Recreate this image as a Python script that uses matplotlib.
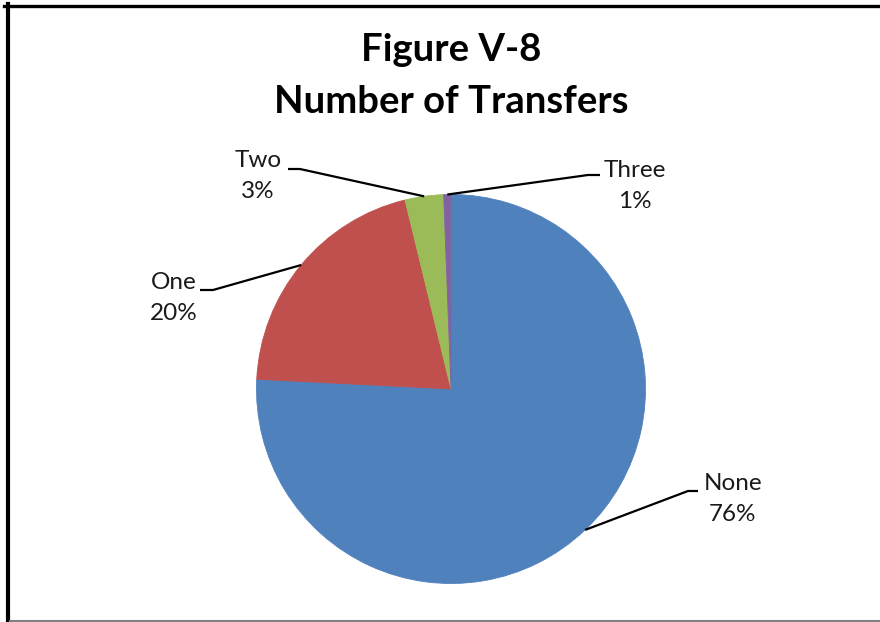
import numpy as np
import matplotlib.pyplot as plt
from matplotlib.lines import Line2D

# Data
labels = ['None', 'One', 'Two', 'Three']
shares = [75.8, 20.4, 3.2, 0.6]
pct_text = ['76%', '20%', '3%', '1%']
colors = ['#4F81BD', '#C0504D', '#9BBB59', '#8064A2']

# Layout (pixel space, y measured from the top of the image)
W, H = 880, 622
cx, cy, R = 451, 389, 194.5
text_pos = {'None': (733, 499), 'One': (174, 298), 'Two': (258, 176), 'Three': (635, 186)}
elbow = {'None': (688, 491, 698), 'One': (213, 290, 200), 'Two': (300, 169, 288),
         'Three': (588, 175, 600)}

plt.rcParams['font.family'] = ['Lato', 'DejaVu Sans']

fig = plt.figure(figsize=(W / 100, H / 100), dpi=100)
ax = fig.add_axes([0, 0, 1, 1])

wedges, _ = ax.pie(shares, colors=colors, startangle=90, counterclock=False,
                   center=(cx, H - cy), radius=R, frame=True,
                   wedgeprops=dict(linewidth=0.6))
for w in wedges:
    w.set_edgecolor(w.get_facecolor())
ax.set_xlim(0, W)
ax.set_ylim(0, H)
ax.set_aspect('auto')
ax.axis('off')

# leader lines and data labels
for w, lab, pct in zip(wedges, labels, pct_text):
    mid = np.deg2rad((w.theta1 + w.theta2) / 2)
    ex, ey = cx + R * np.cos(mid), (H - cy) + R * np.sin(mid)
    bx, by, tx = elbow[lab]
    ax.plot([ex, bx, tx], [ey, H - by, H - by], color='black', lw=1.6,
            solid_capstyle='butt')
    px, py = text_pos[lab]
    ax.text(px, H - py, lab + '\n' + pct, ha='center', va='center',
            fontsize=17.5, color='#1a1a1a', linespacing=1.58)

# title
ax.text(451, H - 50, 'Figure V-8', ha='center', va='center',
        fontsize=27.5, fontweight='bold', color='black')
ax.text(451, H - 102, 'Number of Transfers', ha='center', va='center',
        fontsize=27.5, fontweight='bold', color='black')

# chart frame
fig.add_artist(Line2D([4 / W, 1], [1 - 5.5 / H] * 2, color='black', lw=2.4,
                      transform=fig.transFigure))
fig.add_artist(Line2D([8 / W] * 2, [0, 1 - 4 / H], color='black', lw=3.0,
                      transform=fig.transFigure))
fig.add_artist(Line2D([10 / W, 1], [1 / H] * 2, color='#808080', lw=1.5,
                      transform=fig.transFigure))

fig.savefig('out.png', dpi=100)
